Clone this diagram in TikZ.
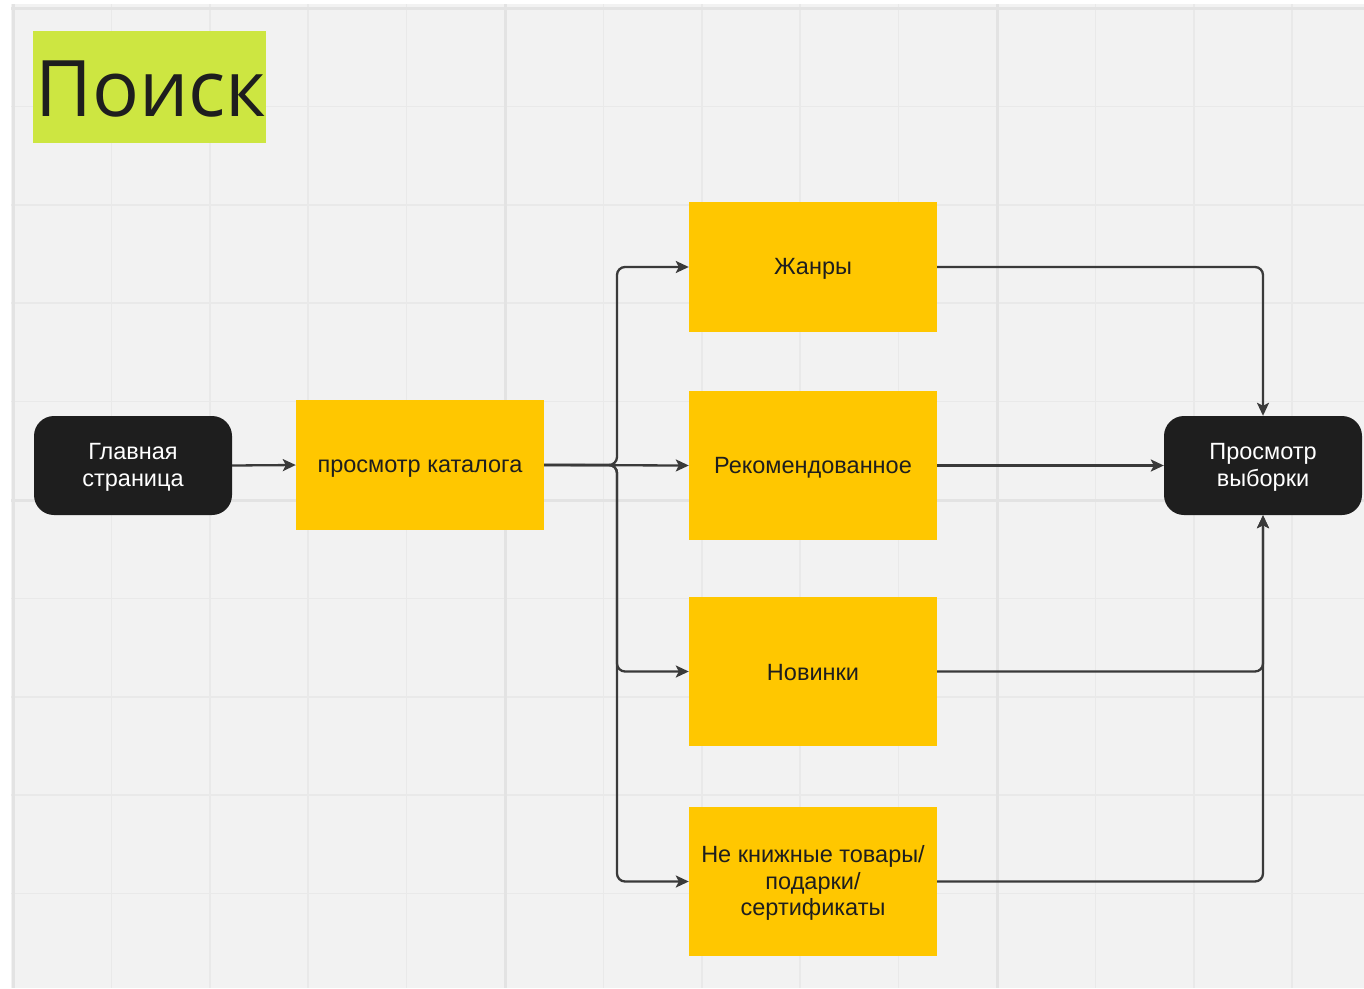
\documentclass[tikz,border=0pt]{standalone}
\usepackage{fontspec}
\setmainfont{Liberation Sans}
\newfontfamily\titlefont{Open Sans}
\usetikzlibrary{arrows.meta}
\definecolor{bggray}{HTML}{F2F2F2}
\definecolor{gridminor}{HTML}{E9E9E9}
\definecolor{gridmajor}{HTML}{E3E3E3}
\definecolor{boxyellow}{HTML}{FFC700}
\definecolor{boxblack}{HTML}{1E1E1E}
\definecolor{titlegreen}{HTML}{CDE641}
\definecolor{linegray}{HTML}{3A3A3A}
\tikzset{
  ybox/.style={fill=boxyellow, draw=none, inner sep=0pt, align=center,
    text=boxblack, font=\fontsize{23.5}{26.5}\selectfont},
  bbox/.style={fill=boxblack, draw=none, rounded corners=20pt, inner sep=0pt,
    align=center, text=white, minimum width=198pt, minimum height=99pt,
    font=\fontsize{23.5}{27}\selectfont},
  ytext/.style={text=boxblack, inner sep=0pt, align=center, font=\fontsize{23.5}{26.5}\selectfont},
  wtext/.style={text=white, inner sep=0pt, align=center, font=\fontsize{23.5}{27}\selectfont},
  conn/.style={draw=linegray, line width=2.3pt, rounded corners=8pt,
    -{Stealth[length=13pt,width=12pt,inset=3pt]}},
}
\begin{document}
\begin{tikzpicture}[x=1pt,y=-1pt]
\useasboundingbox (0,0) rectangle (1364,988);
\fill[white] (0,0) rectangle (1364,988);
\fill[bggray] (11,4) rectangle (1364,988);
% grid
\foreach \k in {0,...,13}{
  \pgfmathsetmacro\gx{13+98.4*\k}
  \draw[gridminor, line width=1.5pt] (\gx,4) -- (\gx,988);
}
\foreach \k in {0,...,9}{
  \pgfmathsetmacro\gy{8+98.4*\k}
  \draw[gridminor, line width=1.5pt] (11,\gy) -- (1364,\gy);
}
\foreach \k in {0,5,10}{
  \pgfmathsetmacro\gx{13+98.4*\k}
  \draw[gridmajor, line width=3pt] (\gx,4) -- (\gx,988);
}
\foreach \k in {0,5}{
  \pgfmathsetmacro\gy{8+98.4*\k}
  \draw[gridmajor, line width=3pt] (11,\gy) -- (1364,\gy);
}
% title
\node[fill=titlegreen, minimum width=233pt, minimum height=112pt, inner sep=0pt,
  anchor=north west] (title) at (33,31) {};
\node[anchor=west, inner sep=0pt, text=boxblack,
  font=\titlefont\fontsize{78}{78}\selectfont] (titletext) at (35,89) {Поиск};
% nodes
\node[bbox] (main) at (133,465.5) {};
\node[wtext] (maintxt) at (133,467) {Главная\\страница};
\node[ybox, minimum width=248pt, minimum height=130pt] (kat) at (420,465) {};
\node[ytext] (kattxt) at (420,469) {просмотр каталога};
\node[ybox, minimum width=248pt, minimum height=130pt] (zh) at (813,267) {};
\node[ytext] (zhtxt) at (813,269) {Жанры};
\node[ybox, minimum width=248pt, minimum height=149pt] (rec) at (813,465.5) {};
\node[ytext] (rectxt) at (813,468) {Рекомендованное};
\node[ybox, minimum width=248pt, minimum height=149pt] (nov) at (813,671.5) {};
\node[ytext] (novtxt) at (813,673) {Новинки};
\node[ybox, minimum width=248pt, minimum height=149pt] (gift) at (813,881.5) {};
\node[ytext] (gifttxt) at (813,883) {Не книжные товары/\\подарки/\\сертификаты};
\node[bbox] (view) at (1263,465.5) {};
\node[wtext] (viewtxt) at (1263,467) {Просмотр\\выборки};
% connectors
\draw[conn] (main.east) -- (kat.west);
\draw[conn] (kat.east) -- (617,465) |- (zh.west);
\draw[conn] (kat.east) -- (rec.west);
\draw[conn] (kat.east) -- (617,465) |- (nov.west);
\draw[conn] (kat.east) -- (617,465) |- (gift.west);
\draw[conn] (zh.east) -| (view.north);
\draw[conn] (rec.east) -- (view.west);
\draw[conn] (nov.east) -| (view.south);
\draw[conn] (gift.east) -| (view.south);
\end{tikzpicture}
\end{document}
